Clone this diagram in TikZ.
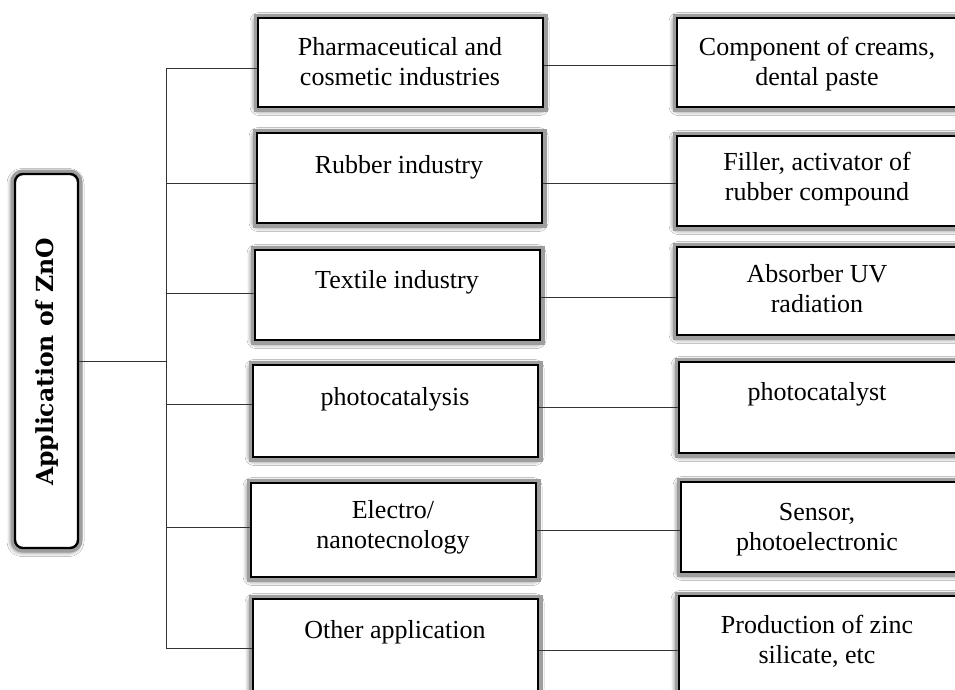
\documentclass[tikz,border=0pt]{standalone}
\usepackage{fontspec}
\setmainfont{Liberation Serif}
\newfontfamily\znofont{DejaVu Serif}
\usetikzlibrary{shadows.blur}
\begin{document}
\begin{tikzpicture}[x=1pt,y=-1pt,
  boxshadow/.style={blur shadow={shadow xshift=-1pt,shadow yshift=-1.5pt,shadow blur radius=7pt,shadow blur extra rounding=2pt,shadow opacity=90,shadow blur steps=10},
    preaction={draw=black!38,line width=9pt}},
  appbox/.style={draw=black,line width=2.8pt,fill=white,rectangle,inner sep=0pt,boxshadow},
  zbox/.style={draw=black,line width=2.4pt,fill=white,rectangle,rounded corners=8pt,inner sep=0pt,boxshadow},
  lbl/.style={inner sep=0pt,anchor=base,font=\fontsize{26pt}{30pt}\selectfont},
  conn/.style={draw=black!80,line width=0.9pt}]
\useasboundingbox (0,0) rectangle (955,689);
\fill[white] (0,0) rectangle (955,689);

% left root box
\node[zbox,minimum width=63pt,minimum height=374pt] (zno) at (46.5,361) {};
\node[inner sep=0pt,rotate=90,font=\znofont\bfseries\fontsize{23.5pt}{26pt}\selectfont] (znot) at (47,362) {Application of ZnO};

% middle column
\node[appbox,minimum width=285pt,minimum height=89pt] (m1) at (400.5,62.5) {};
\node[appbox,minimum width=285pt,minimum height=90pt] (m2) at (399.5,178) {};
\node[appbox,minimum width=285pt,minimum height=90pt] (m3) at (397.5,295) {};
\node[appbox,minimum width=285pt,minimum height=92pt] (m4) at (395.5,411) {};
\node[appbox,minimum width=285pt,minimum height=94pt] (m5) at (393.5,530) {};
\node[appbox,minimum width=285pt,minimum height=111pt] (m6) at (395.5,654.5) {};

% right column
\node[appbox,minimum width=283pt,minimum height=89pt] (r1) at (818.5,62.5) {};
\node[appbox,minimum width=283pt,minimum height=90pt] (r2) at (818.5,181) {};
\node[appbox,minimum width=283pt,minimum height=88pt] (r3) at (818.5,291) {};
\node[appbox,minimum width=281pt,minimum height=91pt] (r4) at (819.5,407.5) {};
\node[appbox,minimum width=279pt,minimum height=90pt] (r5) at (820.5,527) {};
\node[appbox,minimum width=281pt,minimum height=114pt] (r6) at (819.5,653) {};

% labels middle
\node[lbl] (m1t) at (400,55) {\begin{tabular}[t]{@{}c@{}}Pharmaceutical and\\cosmetic industries\end{tabular}};
\node[lbl] (m2t) at (399,173) {\begin{tabular}[t]{@{}c@{}}Rubber industry\end{tabular}};
\node[lbl] (m3t) at (397,288) {\begin{tabular}[t]{@{}c@{}}Textile industry\end{tabular}};
\node[lbl] (m4t) at (395,405) {\begin{tabular}[t]{@{}c@{}}photocatalysis\end{tabular}};
\node[lbl] (m5t) at (393,518) {\begin{tabular}[t]{@{}c@{}}Electro/\\nanotecnology\end{tabular}};
\node[lbl] (m6t) at (395,638) {\begin{tabular}[t]{@{}c@{}}Other application\end{tabular}};

% labels right
\node[lbl] (r1t) at (817,55) {\begin{tabular}[t]{@{}c@{}}Component of creams,\\dental paste\end{tabular}};
\node[lbl] (r2t) at (817,170) {\begin{tabular}[t]{@{}c@{}}Filler, activator of\\rubber compound\end{tabular}};
\node[lbl] (r3t) at (817,282) {\begin{tabular}[t]{@{}c@{}}Absorber UV\\radiation\end{tabular}};
\node[lbl] (r4t) at (817,400) {\begin{tabular}[t]{@{}c@{}}photocatalyst\end{tabular}};
\node[lbl] (r5t) at (817,520) {\begin{tabular}[t]{@{}c@{}}Sensor,\\photoelectronic\end{tabular}};
\node[lbl] (r6t) at (817,633) {\begin{tabular}[t]{@{}c@{}}Production of zinc\\silicate, etc\end{tabular}};

% trunk
\coordinate (tr) at (166,361);
\coordinate (b1) at (166,68);
\coordinate (b2) at (166,183);
\coordinate (b3) at (166,293);
\coordinate (b4) at (166,404);
\coordinate (b5) at (166,527);
\coordinate (b6) at (166,648);
\draw[conn] (zno.east) -- (tr);
\draw[conn] (b1) -- (b6);
\draw[conn] (b1) -- (b1 -| m1.west);
\draw[conn] (b2) -- (b2 -| m2.west);
\draw[conn] (b3) -- (b3 -| m3.west);
\draw[conn] (b4) -- (b4 -| m4.west);
\draw[conn] (b5) -- (b5 -| m5.west);
\draw[conn] (b6) -- (b6 -| m6.west);

% middle to right
\draw[conn] (m1.east |- 0,65) -- (r1.west |- 0,65);
\draw[conn] (m2.east |- 0,183) -- (r2.west |- 0,183);
\draw[conn] (m3.east |- 0,297) -- (r3.west |- 0,297);
\draw[conn] (m4.east |- 0,407) -- (r4.west |- 0,407);
\draw[conn] (m5.east |- 0,530) -- (r5.west |- 0,530);
\draw[conn] (m6.east |- 0,650) -- (r6.west |- 0,650);
\end{tikzpicture}
\end{document}
